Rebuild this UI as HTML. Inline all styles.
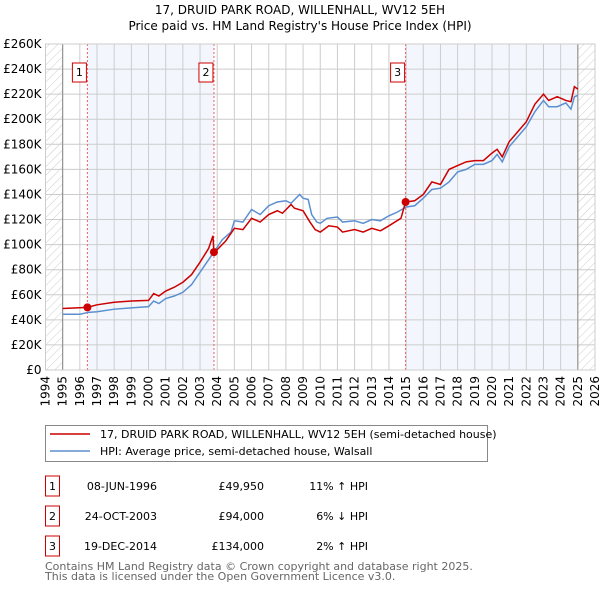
<!DOCTYPE html>
<html><head><meta charset="utf-8"><style>
body{margin:0;background:#fff;font-family:"DejaVu Sans","Liberation Sans",sans-serif;}
svg text{font-family:"DejaVu Sans","Liberation Sans",sans-serif;}
</style></head><body>
<svg id="c" width="600" height="590" xmlns="http://www.w3.org/2000/svg">
<defs><pattern id="h" width="6" height="6" patternUnits="userSpaceOnUse" patternTransform="rotate(45)"><line x1="0" y1="0" x2="0" y2="6" stroke="#ccc" stroke-width="1"/></pattern></defs>
<text x="300" y="14" text-anchor="middle" font-size="12">17, DRUID PARK ROAD, WILLENHALL, WV12 5EH</text>
<text x="300" y="30" text-anchor="middle" font-size="12">Price paid vs. HM Land Registry's House Price Index (HPI)</text>
<g id="plot"></g>
<g>
<rect x="45.5" y="425.5" width="442" height="36" fill="#fff" stroke="#888"/>
<line x1="50" y1="434" x2="90" y2="434" stroke="#cc0000" stroke-width="1.5"/>
<text x="100" y="438" font-size="11">17, DRUID PARK ROAD, WILLENHALL, WV12 5EH (semi-detached house)</text>
<line x1="50" y1="451" x2="90" y2="451" stroke="#5b8fd0" stroke-width="1.5"/>
<text x="100" y="455" font-size="11">HPI: Average price, semi-detached house, Walsall</text>
</g>
<g id="table" font-size="11"></g>
<text x="45" y="570" font-size="11" fill="#666">Contains HM Land Registry data © Crown copyright and database right 2025.</text>
<text x="45" y="580" font-size="11" fill="#666">This data is licensed under the Open Government Licence v3.0.</text>
</svg>
<script>
const hpiYears=[1995,1996,1996.5,1997,1998,1999,2000,2000.3,2000.6,2001,2001.5,2002,2002.5,2003,2003.5,2004,2004.3,2004.8,2005,2005.5,2006,2006.5,2007,2007.5,2008,2008.3,2008.8,2009,2009.3,2009.5,2009.8,2010,2010.4,2011,2011.3,2012,2012.5,2013,2013.5,2014,2014.5,2015,2015.5,2016,2016.5,2017,2017.5,2018,2018.5,2019,2019.5,2020,2020.3,2020.6,2021,2021.5,2022,2022.5,2023,2023.3,2023.8,2024.3,2024.6,2024.8,2025];
const hpiValues=[44.5,44.5,46,46.5,48.5,49.5,50.5,55,53,57,59,62,68,78,88,98,104,110,119,118,128,124,131,134,135,133,140,137,136,124,118,117,121,122,118,119,117,120,119,123,126,130,131,137,144,145,150,158,160,164,164,167,172,166,178,186,194,206,215,210,210,213,208,218,219];
const priceYears=[1995,1996.44,1997,1998,1999,2000,2000.3,2000.6,2001,2001.5,2002,2002.5,2003,2003.5,2003.75,2003.81,2004,2004.5,2005,2005.5,2006,2006.5,2007,2007.5,2007.8,2008.3,2008.5,2009,2009.4,2009.7,2010,2010.5,2011,2011.3,2012,2012.5,2013,2013.5,2014,2014.7,2014.97,2015.5,2016,2016.5,2017,2017.5,2018,2018.5,2019,2019.5,2020,2020.3,2020.6,2021,2021.5,2022,2022.5,2023,2023.3,2023.8,2024.3,2024.6,2024.8,2025];
const priceValues=[49,49.95,52,54,55,55.5,61,59,63,66,70,76,86,97,107,94,96,103,113,112,121,118,124,127,125,132,129,127,118,112,110,115,114,110,112,110,113,111,115,121,134,135,140,150,148,160,163,166,167,167,173,176,170,182,190,198,212,220,215,218,215,214,226,224];
const saleLabels=["1","2","3"];
const saleYears=[1996.44,2003.81,2014.97];
const salePrices=[49.95,94,134];
const saleDates=["08-JUN-1996","24-OCT-2003","19-DEC-2014"];
const salePriceText=["£49,950","£94,000","£134,000"];
const saleHpiText=["11% ↑ HPI","6% ↓ HPI","2% ↑ HPI"];
const yTicks=[0,20,40,60,80,100,120,140,160,180,200,220,240,260];
const yTickLabels=["£0","£20K","£40K","£60K","£80K","£100K","£120K","£140K","£160K","£180K","£200K","£220K","£240K","£260K"];
const xTicks=[1994,1995,1996,1997,1998,1999,2000,2001,2002,2003,2004,2005,2006,2007,2008,2009,2010,2011,2012,2013,2014,2015,2016,2017,2018,2019,2020,2021,2022,2023,2024,2025,2026];

const NS="http://www.w3.org/2000/svg";
const L=45.5,R=595,T=44,B=370;
const X=y=>L+(y-1994)/(2026-1994)*(R-L);
const Y=v=>B-v/260*(B-T);
const g=document.getElementById('plot');
function mk(tag,attrs,parent){const e=document.createElementNS(NS,tag);for(const k in attrs)e.setAttribute(k,attrs[k]);(parent||g).appendChild(e);return e;}
let e;
e=mk('rect',{x:X(saleYears[0]),y:T,width:X(saleYears[1])-X(saleYears[0]),height:B-T,fill:'#eef3fc',opacity:0.7});


e=mk('rect',{x:X(saleYears[2]),y:T,width:X(2025)-X(saleYears[2]),height:B-T,fill:'#eef3fc',opacity:0.7});


e=mk('rect',{x:L,y:T,width:X(1995)-L,height:B-T,fill:'url(#h)'});


e=mk('rect',{x:X(2025),y:T,width:R-X(2025),height:B-T,fill:'url(#h)'});


yTicks.forEach((v,i)=>{
 e=mk('line',{x1:L,x2:R,y1:Y(v),y2:Y(v),stroke:'#ccc','stroke-width':1});
 
 
 e=mk('text',{x:L-4,y:Y(v)+4,'text-anchor':'end','font-size':12});
 e.textContent=yTickLabels[i];
 
 
});
xTicks.forEach(t=>{
 e=mk('line',{x1:X(t),x2:X(t),y1:T,y2:B,stroke:'#ccc','stroke-width':1});
 
 
 e=mk('text',{x:X(t)+4,y:B+6,'text-anchor':'end','font-size':12,transform:`rotate(-90 ${X(t)+4} ${B+6})`});
 e.textContent=String(t);
 
 
});
e=mk('line',{x1:X(1995),x2:X(1995),y1:T,y2:B,stroke:'#888','stroke-width':1});


e=mk('line',{x1:X(2025),x2:X(2025),y1:T,y2:B,stroke:'#888','stroke-width':1});


saleYears.forEach((s,i)=>{
 e=mk('line',{x1:X(s),x2:X(s),y1:T,y2:B,stroke:'#f06060','stroke-width':1,'stroke-dasharray':'2,2'});
 
 
});
e=mk('polyline',{points:hpiYears.map((y,i)=>X(y)+','+Y(hpiValues[i])).join(' '),fill:'none',stroke:'#5b8fd0','stroke-width':1.5});


e=mk('polyline',{points:priceYears.map((y,i)=>X(y)+','+Y(priceValues[i])).join(' '),fill:'none',stroke:'#cc0000','stroke-width':1.5});


saleYears.forEach((s,i)=>{
 e=mk('circle',{cx:X(s),cy:Y(salePrices[i]),r:4,fill:'#cc0000'});
 
 
 e=mk('rect',{x:X(s)-15,y:63,width:14,height:19,fill:'#fff',stroke:'#cc0000'});
 
 
 e=mk('text',{x:X(s)-8,y:76,'text-anchor':'middle','font-size':11});
 e.textContent=saleLabels[i];
 
 
});
e=mk('rect',{x:L,y:T,width:R-L,height:B-T,fill:'none',stroke:'#ccc'});


const tb=document.getElementById('table');
saleLabels.forEach((lab,i)=>{
 const y0=476+i*30;
 e=mk('rect',{x:45.5,y:y0,width:14,height:20,fill:'#fff',stroke:'#cc0000'},tb);
 
 
 e=mk('text',{x:52.5,y:y0+14,'text-anchor':'middle'},tb);e.textContent=lab;
 
 
 e=mk('text',{x:157,y:y0+14,'text-anchor':'end'},tb);e.textContent=saleDates[i];
 
 
 e=mk('text',{x:264,y:y0+14,'text-anchor':'end'},tb);e.textContent=salePriceText[i];
 
 
 e=mk('text',{x:368,y:y0+14,'text-anchor':'end'},tb);e.textContent=saleHpiText[i];
 
 
});
</script>
</body></html>
